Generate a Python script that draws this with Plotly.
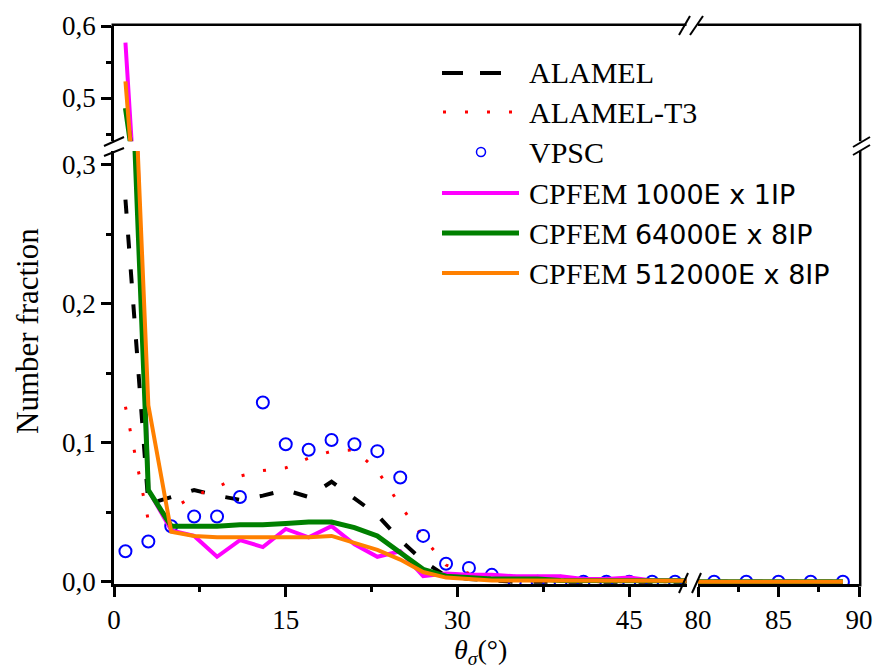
import plotly.graph_objects as go

# ---------------- data ----------------
theta = [1, 3, 5, 7, 9, 11, 13, 15, 17, 19, 21, 23, 25, 27, 29, 31, 33, 35, 37, 39,
         41, 43, 45, 47, 49, 81, 83, 85, 87, 89]

alamel = [0.275, 0.056, 0.061, 0.066, 0.062, 0.059, 0.062, 0.066, 0.061, 0.072,
          0.060, 0.048, 0.030, 0.015, 0.004, 0.002, 0.001, 0.0, 0.0, 0.0,
          0.0, 0.0, 0.0, 0.0, 0.0, 0.0, 0.0, 0.0, 0.0, 0.0]

alamel_t3 = [0.126, 0.044, 0.052, 0.062, 0.068, 0.076, 0.080, 0.082, 0.089, 0.094,
             0.095, 0.080, 0.055, 0.032, 0.012, 0.006, 0.003, 0.002, 0.001, 0.001,
             0.0, 0.0, 0.0, 0.0, 0.0, 0.0, 0.0, 0.0, 0.0, 0.0]

vpsc = [0.022, 0.029, 0.040, 0.047, 0.047, 0.061, 0.129, 0.099, 0.095, 0.102,
        0.099, 0.094, 0.075, 0.033, 0.013, 0.010, 0.005, 0.0, 0.0, 0.0,
        0.0, 0.0, 0.0, 0.0, 0.0, 0.0, 0.0, 0.0, 0.0, 0.0]

cpfem_1000 = [0.577, 0.066, 0.037, 0.033, 0.018, 0.030, 0.025, 0.038, 0.032, 0.040,
              0.027, 0.018, 0.022, 0.004, 0.006, 0.005, 0.005, 0.004, 0.004, 0.004,
              0.002, 0.002, 0.003, 0.001, 0.001, 0.0, 0.0, 0.0, 0.0, 0.0]

cpfem_64000 = [0.486, 0.066, 0.040, 0.040, 0.040, 0.041, 0.041, 0.042, 0.043, 0.043,
               0.039, 0.033, 0.021, 0.009, 0.004, 0.003, 0.002, 0.002, 0.002, 0.001,
               0.001, 0.001, 0.001, 0.001, 0.001, 0.0, 0.0, 0.0, 0.0, 0.0]

cpfem_512000 = [0.523, 0.127, 0.036, 0.033, 0.032, 0.032, 0.032, 0.032, 0.032, 0.033,
                0.028, 0.023, 0.016, 0.007, 0.003, 0.002, 0.001, 0.001, 0.001, 0.001,
                0.001, 0.001, 0.001, 0.001, 0.001, 0.0, 0.0, 0.0, 0.0, 0.0]

x_ticks_left = [0, 15, 30, 45]
x_ticks_right = [80, 85, 90]
y_ticks_low = [0.0, 0.1, 0.2, 0.3]
y_ticks_up = [0.5, 0.6]

SANS = "<span style=\"font-family:'DejaVu Sans';font-size:27px\">"
legend_names = ["ALAMEL", "ALAMEL-T3", "VPSC",
                "CPFEM " + SANS + "1000E x 1IP</span>",
                "CPFEM " + SANS + "64000E x 8IP</span>",
                "CPFEM " + SANS + "512000E x 8IP</span>"]

# ---------------- layout geometry (pixels) ----------------
W, H = 879, 671
PL, PR, PT, PB = 114, 859, 26, 584
pw, ph = PR - PL, PB - PT


def px(x):
    return (x - PL) / pw


def py(y):
    return (PB - y) / ph


dxL = px(686.5)
dxR0 = px(698)
dyL = py(151)
dyU0 = py(141.2)

series = [
    dict(y=alamel, mode="lines", line=dict(color="black", width=4, dash="14px,21px")),
    dict(y=alamel_t3, mode="lines", line=dict(color="#FF0000", width=3, dash="3px,19px")),
    dict(y=vpsc, mode="markers", marker=dict(symbol="circle-open", size=12, color="#0000FF",
                                             line=dict(width=2, color="#0000FF"))),
    dict(y=cpfem_1000, mode="lines", line=dict(color="#FF00FF", width=4)),
    dict(y=cpfem_64000, mode="lines", line=dict(color="#008000", width=5)),
    dict(y=cpfem_512000, mode="lines", line=dict(color="#FF8000", width=4)),
]

fig = go.Figure()
for ax_pair in [("x", "y"), ("x2", "y"), ("x", "y2")]:
    for s in series:
        kw = dict(s)
        fig.add_trace(go.Scatter(x=theta, y=kw.pop("y"), xaxis=ax_pair[0], yaxis=ax_pair[1],
                                 showlegend=False, **kw))

axis_common = dict(showline=True, linewidth=2.5, linecolor="black", ticks="outside",
                   ticklen=10, tickwidth=2.5, tickcolor="black", showgrid=False,
                   zeroline=False, automargin=False,
                   tickfont=dict(size=27, color="black", family="Liberation Serif"))
minor_common = dict(ticks="outside", ticklen=5, tickwidth=2.5, tickcolor="black", showgrid=False)

fig.update_layout(
    width=W, height=H,
    margin=dict(l=PL, r=W - PR, t=PT, b=H - PB, autoexpand=False),
    paper_bgcolor="white", plot_bgcolor="white",
    font=dict(family="Liberation Serif", color="black", size=27),
    separators=", ",
    showlegend=False,
    xaxis=dict(domain=[0, dxL], range=[0, 50], anchor="y", tickvals=x_ticks_left,
               minor=dict(tickvals=[7.5, 22.5, 37.5], **minor_common), **axis_common),
    xaxis2=dict(domain=[dxR0, 1], range=[80, 90], anchor="y", tickvals=x_ticks_right,
                minor=dict(tickvals=[82.5, 87.5], **minor_common), **axis_common),
    yaxis=dict(domain=[0, dyL], range=[-0.0016, 0.31], anchor="x", tickvals=y_ticks_low,
               tickformat=".1f",
               minor=dict(tickvals=[0.05, 0.15, 0.25], **minor_common), **axis_common),
    yaxis2=dict(domain=[dyU0, 1], range=[0.44, 0.6], anchor="x", tickvals=y_ticks_up,
                tickformat=".1f",
                minor=dict(tickvals=[0.45, 0.55], **minor_common), **axis_common),
)

shapes = []


def seg(x0, y0, x1, y1, color="black", width=2.5, dash=None):
    line = dict(color=color, width=width)
    if dash:
        line["dash"] = dash
    shapes.append(dict(type="line", xref="paper", yref="paper",
                       x0=px(x0), y0=py(y0), x1=px(x1), y1=py(y1), line=line, layer="above"))


# frame: top and right edges (with gaps at the breaks)
seg(PL - 2.5, PT - 1.2, 686.5, PT - 1.2)
seg(698, PT - 1.2, PR + 1.2, PT - 1.2)
seg(PR + 1.2, PB + 2.5, PR + 1.2, 151)
seg(PR + 1.2, 141.2, PR + 1.2, PT - 2.5)

# break marks
seg(679, 593, 688, 573, width=2)
seg(692, 593, 701, 573, width=2)
seg(679, 35, 690, 16, width=2)
seg(690, 35, 703, 16, width=2)
seg(104, 146, 124, 137, width=2)
seg(104, 156, 124, 148, width=2)
seg(853, 147, 870, 137, width=2)
seg(853, 155, 870, 145, width=2)

# custom legend
rows = [73, 112, 152, 193, 233, 273]
seg(442, rows[0], 463, rows[0], width=4)
seg(480, rows[0], 501, rows[0], width=4)
seg(443, rows[1], 516, rows[1], color="#FF0000", width=3, dash="3px,19px")
shapes.append(dict(type="circle", xref="paper", yref="paper",
                   x0=px(476.5), x1=px(485.5), y0=py(rows[2] - 4.5), y1=py(rows[2] + 4.5),
                   line=dict(color="#0000FF", width=1.5), layer="above"))
seg(442, rows[3], 519, rows[3], color="#FF00FF", width=4)
seg(442, rows[4], 519, rows[4], color="#008000", width=5)
seg(442, rows[5], 519, rows[5], color="#FF8000", width=4)

annotations = []
for name, r in zip(legend_names, rows):
    annotations.append(dict(text=name, xref="paper", yref="paper", x=px(527), y=py(r),
                            xanchor="left", yanchor="middle", showarrow=False,
                            font=dict(size=30, family="Liberation Serif", color="black")))

annotations.append(dict(text="Number fraction", xref="paper", yref="paper", x=px(27), y=py(331),
                        xanchor="center", yanchor="middle", textangle=-90, showarrow=False,
                        font=dict(size=31, family="Liberation Serif", color="black")))
annotations.append(dict(text="<i>θ</i><sub><i>σ</i></sub>(°)", xref="paper", yref="paper",
                        x=px(480), y=py(651), xanchor="center", yanchor="middle",
                        showarrow=False,
                        font=dict(size=28, family="Liberation Serif", color="black")))

fig.update_layout(shapes=shapes, annotations=annotations)
fig.write_html("out.html")
